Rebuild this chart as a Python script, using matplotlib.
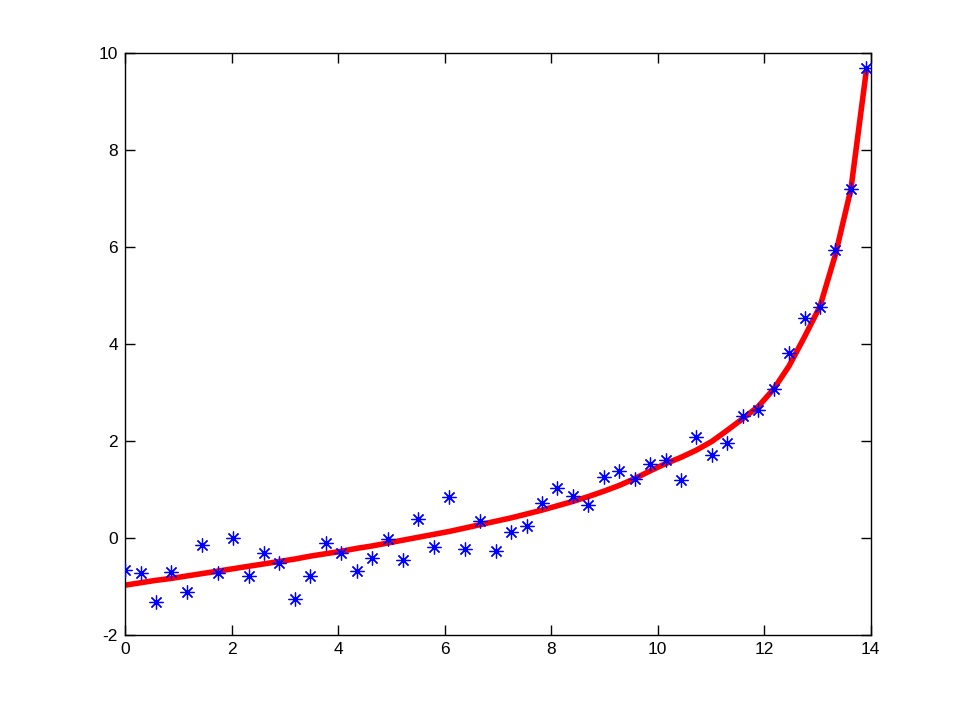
import matplotlib
matplotlib.use('Agg')
import matplotlib.pyplot as plt

# Measured points (blue asterisks)
x_punts = [0.00, 0.29, 0.58, 0.87, 1.16, 1.45, 1.74, 2.03, 2.32, 2.61,
           2.90, 3.19, 3.48, 3.77, 4.06, 4.35, 4.64, 4.93, 5.22, 5.51,
           5.80, 6.09, 6.38, 6.67, 6.96, 7.25, 7.54, 7.83, 8.12, 8.41,
           8.70, 8.99, 9.28, 9.57, 9.86, 10.15, 10.44, 10.73, 11.02, 11.31,
           11.60, 11.89, 12.18, 12.47, 12.76, 13.05, 13.34, 13.63, 13.92]
y_punts = [-0.66, -0.73, -1.33, -0.71, -1.12, -0.16, -0.73, -0.01, -0.79, -0.32,
           -0.52, -1.26, -0.79, -0.11, -0.32, -0.68, -0.41, -0.03, -0.46, 0.39,
           -0.19, 0.84, -0.23, 0.34, -0.27, 0.12, 0.24, 0.72, 1.02, 0.86,
           0.67, 1.25, 1.38, 1.21, 1.52, 1.61, 1.20, 2.08, 1.71, 1.96,
           2.52, 2.64, 3.07, 3.81, 4.53, 4.76, 5.95, 7.20, 9.71]

# Fitted curve (red line)
x_corba = x_punts
y_corba = [-0.98, -0.93, -0.88, -0.84, -0.79, -0.74, -0.69, -0.64, -0.59, -0.54,
           -0.49, -0.44, -0.38, -0.33, -0.28, -0.22, -0.17, -0.11, -0.05, 0.01,
           0.07, 0.13, 0.20, 0.27, 0.34, 0.41, 0.49, 0.57, 0.66, 0.75,
           0.85, 0.96, 1.08, 1.22, 1.38, 1.53, 1.66, 1.81, 1.99, 2.22,
           2.46, 2.71, 3.07, 3.55, 4.15, 4.78, 5.85, 7.20, 9.65]

plt.rcParams['font.family'] = ['Liberation Sans', 'DejaVu Sans']
plt.rcParams['axes.unicode_minus'] = False

fig = plt.figure(figsize=(9.62, 7.13), dpi=100)
ax = fig.add_axes([0.13, 0.11, 0.775, 0.815])

ax.plot(x_corba, y_corba, color='#ff0000', linewidth=4,
        solid_capstyle='butt', zorder=2)
ax.plot(x_punts, y_punts, linestyle='none', marker=(8, 2, 0), markersize=10,
        markeredgewidth=0.9, color='#0000ff', zorder=3)

ax.set_xlim(0, 14)
ax.set_ylim(-2, 10)
ax.set_xticks(range(0, 15, 2))
ax.set_yticks(range(-2, 11, 2))
ax.tick_params(direction='in', length=7, width=1, top=True, right=True,
               labelsize=12.5, colors='black', pad=5)
for s in ax.spines.values():
    s.set_linewidth(1)

fig.savefig('out.png', dpi=100)
